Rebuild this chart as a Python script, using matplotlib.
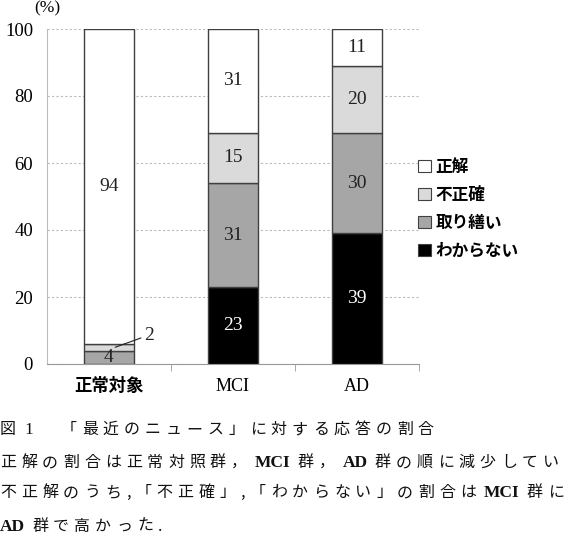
import matplotlib
matplotlib.use("Agg")
import matplotlib.pyplot as plt
from matplotlib.patches import Patch
import numpy as np

categories = ["正常対象", "MCI", "AD"]
series_names = ["わからない", "取り繕い", "不正確", "正解"]
wakaranai = [0, 23, 39]
toritsukuroi = [4, 31, 30]
fuseikaku = [2, 15, 20]
seikai = [94, 31, 11]
yticks = [0, 20, 40, 60, 80, 100]

caption_lines = [
    "図 1 　 「 最 近 の ニ ュ ー ス 」 に 対 す る 応 答 の 割 合",
    "正 解 の 割 合 は 正 常 対 照 群 ， MCI 群 ， AD 群 の 順 に 減 少 し て い",
    "不 正 解 の う ち , 「 不 正 確 」 , 「 わ か ら な い 」 の 割 合 は MCI 群 に",
    "AD 群 で 高 か っ た .",
]

series = [wakaranai, toritsukuroi, fuseikaku, seikai]
colors = ["#000000", "#a6a6a6", "#dadada", "#ffffff"]
text_colors = ["white", "#222222", "#222222", "#222222"]

CJK = ["Noto Sans CJK JP", "DejaVu Sans"]
SERIF = ["Liberation Serif", "DejaVu Serif"]

W, H = 569, 540
fig = plt.figure(figsize=(W/100, H/100), dpi=100)
ax = fig.add_axes([47/W, 176/H, 372/W, 335/H])

x = np.arange(len(categories))
bottom = np.zeros(len(categories))
for vals, col, tc in zip(series, colors, text_colors):
    vals = np.array(vals, dtype=float)
    ax.bar(x, vals, bottom=bottom, width=0.4, color=col, edgecolor="#404040",
           linewidth=1.0, zorder=3)
    for i, v in enumerate(vals):
        if v >= 3:
            ax.text(x[i], bottom[i] + v/2, f"{int(v)}", ha="center", va="center",
                    color=tc, fontsize=14, family=SERIF, zorder=4)
    bottom += vals

ax.annotate(f"{fuseikaku[0]}", xy=(x[0] + 0.05, wakaranai[0] + toritsukuroi[0] + fuseikaku[0]/2),
            xytext=(x[0] + 0.28, 8.6), fontsize=14, family=SERIF, color="#222222",
            ha="left", va="center",
            arrowprops=dict(arrowstyle="-", color="#222222", lw=0.8, shrinkA=0, shrinkB=0),
            zorder=5)

ax.set_xlim(-0.5, 2.5)
ax.set_ylim(0, 100)
ax.set_yticks(yticks)
ax.set_yticklabels([str(t) for t in yticks], family=SERIF, fontsize=13.5)
ax.yaxis.grid(True, linestyle=(0, (2, 2)), color="#bbbbbb", linewidth=0.8, zorder=0)
ax.tick_params(axis="y", length=0, pad=10)

ax.set_xticks(x)
ax.set_xticklabels([])
ax.set_xticks([0.5, 1.5, 2.5], minor=True)
ax.tick_params(axis="x", which="major", length=0)
ax.tick_params(axis="x", which="minor", length=5, color="#999999", direction="out")
for i, c in enumerate(categories):
    if i == 0:
        ax.text(x[i], -6.6, c, ha="center", va="center", family=CJK, fontsize=12.5,
                fontweight="bold", clip_on=False)
    else:
        ax.text(x[i], -6.6, c, ha="center", va="center", family=SERIF, fontsize=13,
                clip_on=False)

for s in ["top", "right"]:
    ax.spines[s].set_visible(False)
ax.spines["left"].set_color("#bbbbbb")
ax.spines["bottom"].set_color("#999999")

fig.text(47/W, 1 - 8/H, "(%)", ha="center", va="center", family=SERIF, fontsize=12.5)

handles = [Patch(facecolor=c, edgecolor="#404040", linewidth=0.8) for c in colors]
fig.legend(handles[::-1], series_names[::-1], loc="upper left",
           bbox_to_anchor=(418/W, 1 - 158/H), frameon=False,
           prop={"family": CJK, "size": 12, "weight": "bold"},
           handlelength=0.75, handleheight=0.75, handletextpad=0.3,
           labelspacing=0.6, borderaxespad=0, borderpad=0)

# caption with letter spacing, drawn token by token
renderer = fig.canvas.get_renderer()
baselines = [434, 467, 497, 531]
gap = 5.0
for line, yb in zip(caption_lines, baselines):
    xp = 0.0
    for tok in line.split(" "):
        is_latin = all(ord(ch) < 128 for ch in tok) and any(ch.isalnum() for ch in tok)
        if is_latin:
            if xp > 0:
                xp += 3
            t = fig.text(xp/W, 1 - yb/H, tok, ha="left", va="baseline", family=SERIF,
                         fontsize=12.5, fontweight="bold" if tok.isalpha() else "normal",
                         color="#111111")
        else:
            t = fig.text(xp/W, 1 - yb/H, tok, ha="left", va="baseline", family=CJK,
                         fontsize=11.5, color="#111111")
        w = t.get_window_extent(renderer=renderer).width
        xp += w + (gap + 2 if is_latin else gap)

fig.savefig("out.png", dpi=100)
